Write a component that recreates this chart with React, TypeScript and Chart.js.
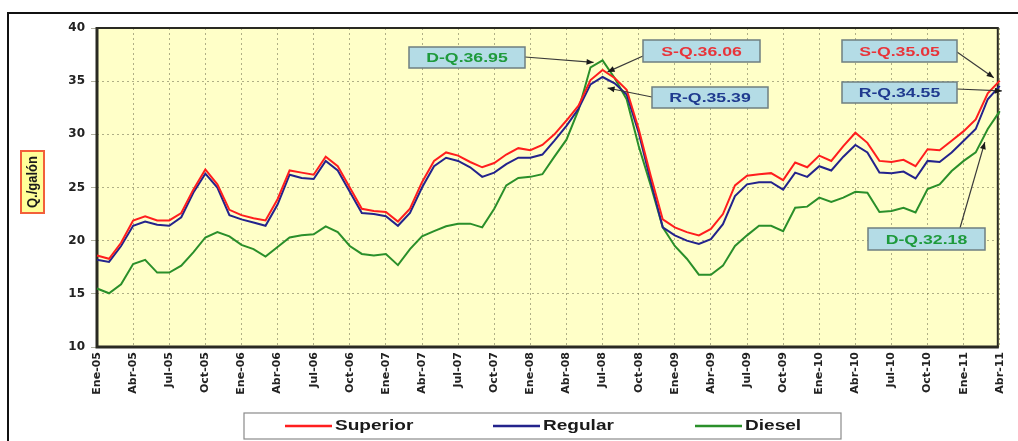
import React, { useEffect, useRef } from 'react';
import { Chart, registerables } from 'chart.js';

Chart.register(...registerables);

// ---------- data ----------
const monthNames = ['Ene', 'Feb', 'Mar', 'Abr', 'May', 'Jun', 'Jul', 'Ago', 'Sep', 'Oct', 'Nov', 'Dic'];
const yearSuffixes = ['05', '06', '07', '08', '09', '10', '11'];
const categories = yearSuffixes.flatMap((y) => monthNames.map((m) => `${m}-${y}`)).slice(0, 76);

const superior = [
  18.6, 18.3, 19.8, 21.9, 22.3, 21.9, 21.9, 22.6, 24.8, 26.7, 25.3, 22.9,
  22.4, 22.1, 21.9, 23.9, 26.6, 26.4, 26.2, 27.9, 27.0, 25.0, 23.0, 22.8,
  22.7, 21.8, 23.0, 25.5, 27.5, 28.3, 28.0, 27.4, 26.9, 27.3, 28.1, 28.7,
  28.5, 29.0, 30.0, 31.3, 32.7, 35.1, 36.06, 35.3, 34.2, 30.5, 26.1, 22.0,
  21.25, 20.8, 20.5, 21.1, 22.5, 25.2, 26.1, 26.25, 26.35, 25.7, 27.35, 26.9,
  28.0, 27.5, 28.9, 30.15, 29.2, 27.5, 27.4, 27.6, 27.0, 28.6, 28.5, 29.4,
  30.3, 31.4, 33.85, 35.05,
];
const regular = [
  18.2, 18.0, 19.5, 21.4, 21.8, 21.5, 21.4, 22.2, 24.5, 26.3, 25.0, 22.4,
  22.0, 21.7, 21.4, 23.4, 26.2, 25.9, 25.8, 27.5, 26.6, 24.6, 22.6, 22.5,
  22.3, 21.4, 22.6, 25.0, 27.0, 27.8, 27.5, 26.9, 26.0, 26.4, 27.2, 27.8,
  27.8, 28.1, 29.4, 30.8, 32.4, 34.7, 35.39, 34.8, 33.75, 30.15, 25.6, 21.25,
  20.5, 20.0, 19.7, 20.15, 21.55, 24.2, 25.3, 25.5, 25.5, 24.8, 26.4, 26.0,
  27.0, 26.6, 27.9, 29.0, 28.3, 26.4, 26.35, 26.5, 25.85, 27.5, 27.4, 28.3,
  29.4, 30.5, 33.3, 34.55,
];
const diesel = [
  15.5, 15.05, 15.9, 17.8, 18.2, 17.0, 17.0, 17.65, 18.9, 20.3, 20.8, 20.4,
  19.6, 19.2, 18.5, 19.4, 20.3, 20.5, 20.6, 21.35, 20.8, 19.5, 18.75, 18.6,
  18.75, 17.7, 19.2, 20.4, 20.9, 21.35, 21.6, 21.6, 21.25, 23.0, 25.2, 25.9,
  26.0, 26.25, 27.9, 29.5, 32.3, 36.3, 36.95, 35.3, 33.3, 28.9, 25.2, 21.25,
  19.5, 18.3, 16.8, 16.8, 17.65, 19.5, 20.5, 21.4, 21.4, 20.9, 23.1, 23.2,
  24.05, 23.65, 24.05, 24.6, 24.5, 22.7, 22.8, 23.1, 22.65, 24.85, 25.3, 26.55,
  27.5, 28.3, 30.5, 32.18,
];

const seriesNames = ['Superior', 'Regular', 'Diesel'];
const seriesPrefixes = ['S', 'R', 'D'];
const seriesColors = ['#FF1E1E', '#23238C', '#2A8F2A'];
const seriesTextColors = ['#E8343A', '#1F3A8F', '#1E9A3C'];
const seriesData = [superior, regular, diesel];

const yMin = 10;
const yMax = 40;
const yStep = 5;
const axisTitle = 'Q./galón';

// callouts: series index and category index
const calloutSeries = [2, 0, 1, 0, 1, 2];
const calloutIndex = [42, 42, 42, 75, 75, 75];

// ---------- drawing helpers ----------
const SX = 1.36; // horizontal stretch of the reference's text

function stretchText(ctx: CanvasRenderingContext2D, text: string, x: number, y: number, font: string, color: string, align: CanvasTextAlign = 'center') {
  ctx.save();
  ctx.translate(x, y);
  ctx.scale(SX, 1);
  ctx.font = font;
  ctx.fillStyle = color;
  ctx.textAlign = align;
  ctx.textBaseline = 'middle';
  ctx.fillText(text, 0, 0);
  ctx.restore();
}

function arrow(ctx: CanvasRenderingContext2D, x1: number, y1: number, x2: number, y2: number) {
  ctx.save();
  ctx.strokeStyle = '#3a3a3a';
  ctx.fillStyle = '#1a1a1a';
  ctx.lineWidth = 1.2;
  ctx.beginPath();
  ctx.moveTo(x1, y1);
  ctx.lineTo(x2, y2);
  ctx.stroke();
  const a = Math.atan2(y2 - y1, x2 - x1);
  const L = 7;
  const W = 3;
  ctx.beginPath();
  ctx.moveTo(x2, y2);
  ctx.lineTo(x2 - L * Math.cos(a) + W * Math.sin(a), y2 - L * Math.sin(a) - W * Math.cos(a));
  ctx.lineTo(x2 - L * Math.cos(a) - W * Math.sin(a), y2 - L * Math.sin(a) + W * Math.cos(a));
  ctx.closePath();
  ctx.fill();
  ctx.restore();
}

// box rectangles (x, y, w, h), arrow start on the box and arrow end offset from target point
const calloutBoxes = [
  [409, 47, 116, 21],
  [643, 40, 117, 22],
  [652, 87, 116, 21],
  [842, 40, 115, 22],
  [842, 82, 115, 21],
  [868, 228, 117, 22],
];
const calloutFrom = [
  [525, 57],
  [643, 56],
  [652, 97],
  [957, 52],
  [957, 89],
  [960, 228],
];
const calloutEndOffset = [
  [-9, 2],
  [5, 2],
  [5, 11],
  [-6, -3],
  [2, 5],
  [-15, 31],
];

const decorPlugin = {
  id: 'decor',
  beforeDraw(chart: any) {
    const { ctx, chartArea } = chart;
    ctx.save();
    ctx.fillStyle = '#ffffff';
    ctx.fillRect(0, 0, chart.width, chart.height);
    // outer frame
    ctx.strokeStyle = '#111';
    ctx.lineWidth = 2;
    ctx.beginPath();
    ctx.moveTo(8, chart.height);
    ctx.lineTo(8, 13);
    ctx.lineTo(chart.width, 13);
    ctx.stroke();
    // plot background
    ctx.fillStyle = '#FFFFC8';
    ctx.fillRect(chartArea.left, chartArea.top, chartArea.right - chartArea.left, chartArea.bottom - chartArea.top);
    ctx.restore();
  },
  beforeDatasetsDraw(chart: any) {
    const { ctx, chartArea } = chart;
    const { left, right, top, bottom } = chartArea;
    ctx.save();
    ctx.strokeStyle = '#2a2a22';
    ctx.lineWidth = 2;
    ctx.beginPath();
    ctx.moveTo(left, top);
    ctx.lineTo(right - 2, top);
    ctx.lineTo(right - 2, bottom);
    ctx.stroke();
    ctx.lineWidth = 3;
    ctx.beginPath();
    ctx.moveTo(left, top - 1);
    ctx.lineTo(left, bottom);
    ctx.lineTo(right - 1, bottom);
    ctx.stroke();
    ctx.restore();
  },
  afterDraw(chart: any) {
    const { ctx } = chart;
    const xs = chart.scales.x;
    const ys = chart.scales.y;

    // y axis title box
    ctx.save();
    ctx.fillStyle = '#FFFF99';
    ctx.fillRect(21, 151, 23, 62);
    ctx.strokeStyle = '#F2603A';
    ctx.lineWidth = 2;
    ctx.strokeRect(21, 151, 23, 62);
    ctx.translate(33, 182);
    ctx.rotate(-Math.PI / 2);
    ctx.scale(1, 1.15);
    ctx.font = 'bold 13px "Liberation Sans", Arial, sans-serif';
    ctx.fillStyle = '#1a1a1a';
    ctx.textAlign = 'center';
    ctx.textBaseline = 'middle';
    ctx.fillText(axisTitle, 0, 0);
    ctx.restore();

    // callouts
    calloutSeries.forEach((s, k) => {
      const idx = calloutIndex[k];
      const value = seriesData[s][idx];
      const tx = xs.getPixelForValue(idx);
      const ty = ys.getPixelForValue(value);
      const [bx, by, bw, bh] = calloutBoxes[k];
      const [fx, fy] = calloutFrom[k];
      const [ox, oy] = calloutEndOffset[k];
      arrow(ctx, fx, fy, tx + ox, ty + oy);
      ctx.save();
      ctx.fillStyle = '#B4DCE6';
      ctx.fillRect(bx, by, bw, bh);
      ctx.strokeStyle = '#6f7f80';
      ctx.lineWidth = 1.5;
      ctx.strokeRect(bx, by, bw, bh);
      ctx.restore();
      const text = `${seriesPrefixes[s]}-Q.${value.toFixed(2)}`;
      stretchText(ctx, text, bx + bw / 2, by + bh / 2 + 1, 'bold 13px "Liberation Sans", Arial, sans-serif', seriesTextColors[s]);
    });

    // legend
    ctx.save();
    ctx.fillStyle = '#ffffff';
    ctx.fillRect(244, 413, 597, 26);
    ctx.strokeStyle = '#8a8a8a';
    ctx.lineWidth = 1.2;
    ctx.strokeRect(244, 413, 597, 26);
    ctx.restore();
    const legendStarts = [285, 493, 695];
    seriesNames.forEach((name, i) => {
      const x0 = legendStarts[i];
      ctx.save();
      ctx.strokeStyle = seriesColors[i];
      ctx.lineWidth = 2.5;
      ctx.beginPath();
      ctx.moveTo(x0, 426);
      ctx.lineTo(x0 + 47, 426);
      ctx.stroke();
      ctx.restore();
      stretchText(ctx, name, x0 + 50, 426, 'bold 14px "Liberation Sans", Arial, sans-serif', '#1a1a1a', 'left');
    });
  },
};

const gridColor = 'rgba(110,110,80,0.55)';

export default function App() {
  const canvasRef = useRef<HTMLCanvasElement | null>(null);

  useEffect(() => {
    if (!canvasRef.current) return;
    const chart = new Chart(canvasRef.current, {
      type: 'line',
      data: {
        labels: categories,
        datasets: seriesNames.map((name, i) => ({
          label: name,
          data: seriesData[i],
          borderColor: seriesColors[i],
          backgroundColor: seriesColors[i],
          borderWidth: 2,
          pointRadius: 0,
          tension: 0,
          fill: false,
        })),
      },
      options: {
        responsive: false,
        animation: false,
        devicePixelRatio: 1,
        layout: { padding: { top: 28, right: 10, left: 0, bottom: 0 } },
        plugins: { legend: { display: false }, tooltip: { enabled: false } },
        scales: {
          x: {
            type: 'category',
            grid: {
              color: (c: any) => (c.index % 3 === 0 ? gridColor : 'rgba(0,0,0,0)'),
              drawTicks: false,
              lineWidth: 1,
            },
            border: { display: false, dash: [2, 3] },
            ticks: {
              autoSkip: false,
              minRotation: 90,
              maxRotation: 90,
              padding: 5,
              color: '#222',
              font: { family: '"DejaVu Sans"', weight: 'bold', size: 11 },
              callback: (_v: any, i: number) => (i % 3 === 0 ? categories[i] : ''),
            },
            afterFit: (s: any) => {
              s.height = 94;
            },
          },
          y: {
            min: yMin,
            max: yMax,
            grid: { color: gridColor, tickLength: 6, lineWidth: 1 },
            border: { display: false, dash: [2, 3] },
            ticks: {
              stepSize: yStep,
              padding: 6,
              color: '#222',
              font: { family: '"DejaVu Sans"', weight: 'bold', size: 12 },
            },
            afterFit: (s: any) => {
              s.width = 97;
            },
          },
        },
      },
      plugins: [decorPlugin],
    } as any);
    return () => chart.destroy();
  }, []);

  return (
    <div style={{ position: 'absolute', left: 0, top: 0, width: 1018, height: 441, background: '#fff' }}>
      <canvas ref={canvasRef} width={1018} height={441} style={{ display: 'block' }} />
    </div>
  );
}
